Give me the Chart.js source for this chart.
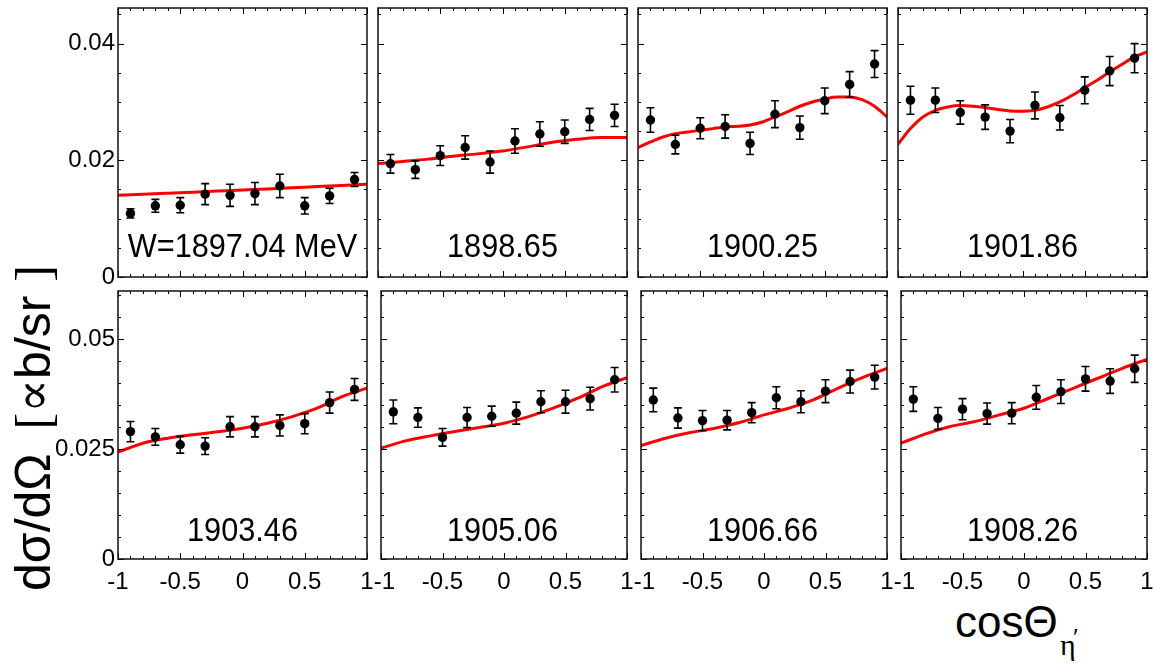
<!DOCTYPE html>
<html><head><meta charset="utf-8">
<script src="https://cdn.jsdelivr.net/npm/chart.js@4.4.1/dist/chart.umd.min.js"></script>
<style>
html,body{margin:0;padding:0;background:#fff;width:1153px;height:664px;overflow:hidden;position:relative;font-family:"Liberation Sans",Arial,sans-serif;color:#000;}
canvas{position:absolute;}
.plabel{position:absolute;width:249px;text-align:center;font-size:33px;line-height:33px;transform:scaleX(0.93);transform-origin:center;white-space:nowrap;}
#ytitle{position:absolute;left:33px;top:428px;transform:translate(-50%,-50%) rotate(-90deg);white-space:nowrap;font-size:50px;line-height:50px;}
#ytitle .sf{font-family:"Liberation Serif","DejaVu Serif",serif;}
.xt{position:absolute;white-space:nowrap;}
</style></head><body>
<div id="ytitle">dσ/dΩ <span class="sf" style="margin-left:10px">[</span><span class="sf">∝</span>b/sr <span class="sf">]</span></div>
<div class="xt" style="left:955px;top:600px;font-size:44px;line-height:44px;">cosΘ</div>
<div class="xt" style="left:1060px;top:630px;font-size:30px;line-height:30px;font-family:'Liberation Serif',serif;">η</div>
<div class="xt" style="left:1073px;top:625px;font-size:26px;line-height:26px;font-family:'Liberation Serif',serif;">′</div>
<script>
// ---- data ----
const cosTheta = [-0.9, -0.7, -0.5, -0.3, -0.1, 0.1, 0.3, 0.5, 0.7, 0.9];
const panelLabels = ["W=1897.04 MeV", "1898.65", "1900.25", "1901.86", "1903.46", "1905.06", "1906.66", "1908.26"];
const xTickValues = [-1, -0.5, 0, 0.5, 1];
const xTickLabels = ["-1", "-0.5", "0", "0.5", "1"];
const yTickValuesTop = [0, 0.02, 0.04];
const yTickLabelsTop = ["0", "0.02", "0.04"];
const yTickValuesBottom = [0, 0.025, 0.05];
const yTickLabelsBottom = ["0", "0.025", "0.05"];
const yMaxTop = 0.0461;
const yMaxBottom = 0.061;

const dsdo_1897 = [0.0109, 0.0122, 0.0123, 0.0142, 0.0140, 0.0143, 0.0156, 0.0122, 0.0139, 0.0167];
const err_1897  = [0.0008, 0.0011, 0.0013, 0.0018, 0.0019, 0.0019, 0.0020, 0.0014, 0.0013, 0.0012];
const dsdo_1898 = [0.0194, 0.0184, 0.0208, 0.0222, 0.0197, 0.0233, 0.0245, 0.0249, 0.0270, 0.0277];
const err_1898  = [0.0016, 0.0015, 0.0017, 0.0020, 0.0019, 0.0021, 0.0021, 0.0020, 0.0019, 0.0019];
const dsdo_1900 = [0.0269, 0.0227, 0.0255, 0.0258, 0.0229, 0.0279, 0.0256, 0.0302, 0.0330, 0.0365];
const err_1900  = [0.0021, 0.0016, 0.0018, 0.0020, 0.0019, 0.0023, 0.0020, 0.0022, 0.0022, 0.0023];
const dsdo_1901 = [0.0303, 0.0303, 0.0282, 0.0274, 0.0250, 0.0294, 0.0273, 0.0320, 0.0353, 0.0375];
const err_1901  = [0.0024, 0.0021, 0.0020, 0.0021, 0.0020, 0.0023, 0.0021, 0.0023, 0.0025, 0.0025];
const dsdo_1903 = [0.0290, 0.0278, 0.0260, 0.0257, 0.0301, 0.0301, 0.0304, 0.0308, 0.0356, 0.0386];
const err_1903  = [0.0023, 0.0019, 0.0019, 0.0019, 0.0023, 0.0023, 0.0024, 0.0023, 0.0024, 0.0025];
const dsdo_1905 = [0.0335, 0.0322, 0.0277, 0.0322, 0.0325, 0.0332, 0.0358, 0.0358, 0.0365, 0.0408];
const err_1905  = [0.0027, 0.0022, 0.0020, 0.0023, 0.0023, 0.0025, 0.0025, 0.0026, 0.0026, 0.0028];
const dsdo_1906 = [0.0362, 0.0321, 0.0315, 0.0316, 0.0333, 0.0367, 0.0358, 0.0382, 0.0404, 0.0414];
const err_1906  = [0.0027, 0.0023, 0.0023, 0.0022, 0.0023, 0.0025, 0.0025, 0.0026, 0.0026, 0.0027];
const dsdo_1908 = [0.0364, 0.0320, 0.0341, 0.0331, 0.0332, 0.0368, 0.0381, 0.0410, 0.0405, 0.0433];
const err_1908  = [0.0028, 0.0025, 0.0024, 0.0024, 0.0024, 0.0027, 0.0027, 0.0028, 0.0028, 0.0031];

const fitXCoarse = [-1, -0.8, -0.6, -0.4, -0.2, 0, 0.2, 0.4, 0.6, 0.8, 1];
const fitXFine = [-1, -0.9, -0.8, -0.7, -0.6, -0.5, -0.4, -0.3, -0.2, -0.1, 0, 0.1, 0.2, 0.3, 0.4, 0.5, 0.6, 0.7, 0.8, 0.9, 1];
const fit_1897 = [0.0140, 0.01418, 0.01436, 0.01454, 0.01472, 0.0149, 0.0151, 0.0153, 0.0155, 0.0157, 0.0159];
const fit_1898 = [0.01943, 0.0198, 0.0202, 0.0207, 0.0211, 0.0216, 0.0223, 0.0231, 0.0236, 0.0239, 0.0239];
const fit_1900 = [0.02217, 0.02314, 0.0240, 0.02457, 0.02486, 0.02514, 0.02543, 0.02571, 0.02583, 0.02606, 0.02657,
                  0.02743, 0.02829, 0.02926, 0.0300, 0.03051, 0.03086, 0.03086, 0.0304, 0.02926, 0.02743];
const fit_1901 = [0.02274, 0.02543, 0.02743, 0.02857, 0.02914, 0.02937, 0.02926, 0.02903, 0.02869, 0.02846, 0.0284,
                  0.02857, 0.02914, 0.0300, 0.03114, 0.03246, 0.03371, 0.03514, 0.03646, 0.03771, 0.03857];
const fit_1903 = [0.02432, 0.02636, 0.0275, 0.02826, 0.02894, 0.02977, 0.03091, 0.03242, 0.03432, 0.03697, 0.03886];
const fit_1905 = [0.02523, 0.02689, 0.02803, 0.02902, 0.02992, 0.03091, 0.03242, 0.03432, 0.03659, 0.03924, 0.04129];
const fit_1906 = [0.02583, 0.0275, 0.02879, 0.02977, 0.03106, 0.0328, 0.03432, 0.03621, 0.03886, 0.04129, 0.04341];
const fit_1908 = [0.02636, 0.02848, 0.03015, 0.03129, 0.0328, 0.03432, 0.03659, 0.03886, 0.04114, 0.04341, 0.04545];

// ---- table built from the arrays ----
const panels = [
  {label: panelLabels[0], y: dsdo_1897, e: err_1897, fx: fitXCoarse, fy: fit_1897},
  {label: panelLabels[1], y: dsdo_1898, e: err_1898, fx: fitXCoarse, fy: fit_1898},
  {label: panelLabels[2], y: dsdo_1900, e: err_1900, fx: fitXFine,   fy: fit_1900},
  {label: panelLabels[3], y: dsdo_1901, e: err_1901, fx: fitXFine,   fy: fit_1901},
  {label: panelLabels[4], y: dsdo_1903, e: err_1903, fx: fitXCoarse, fy: fit_1903},
  {label: panelLabels[5], y: dsdo_1905, e: err_1905, fx: fitXCoarse, fy: fit_1905},
  {label: panelLabels[6], y: dsdo_1906, e: err_1906, fx: fitXCoarse, fy: fit_1906},
  {label: panelLabels[7], y: dsdo_1908, e: err_1908, fx: fitXCoarse, fy: fit_1908}
];

// ---- layout (styling) ----
const panelLefts = [118, 378, 638, 898];
const panelW = 249;
const rowTops = [8, 291];
const rowHs = [269, 268];
const labelTops = [229, 513];
const PAD = 20;

const framePlugin = {
  id: 'frame',
  afterDatasetDraw(chart, args, opts) {
    if (args.index !== 1) return;
    const ctx = chart.ctx, xs = chart.scales.x, ys = chart.scales.y;
    const p = opts.panel;
    ctx.save();
    ctx.strokeStyle = '#000';
    ctx.lineWidth = 1.6;
    for (let k = 0; k < cosTheta.length; k++) {
      const x = xs.getPixelForValue(cosTheta[k]);
      const y1 = ys.getPixelForValue(p.y[k] - p.e[k]);
      const y2 = ys.getPixelForValue(p.y[k] + p.e[k]);
      ctx.beginPath();
      ctx.moveTo(x, y1); ctx.lineTo(x, y2);
      ctx.moveTo(x - 4, y1); ctx.lineTo(x + 4, y1);
      ctx.moveTo(x - 4, y2); ctx.lineTo(x + 4, y2);
      ctx.stroke();
    }
    ctx.restore();
  },
  afterDraw(chart, args, opts) {
    const ctx = chart.ctx, a = chart.chartArea, xs = chart.scales.x, ys = chart.scales.y;
    ctx.save();
    ctx.strokeStyle = '#000';
    ctx.lineWidth = 1;
    ctx.beginPath();
    for (let k = 0; k <= 20; k++) {
      const px = Math.round(xs.getPixelForValue(-1 + k * 0.1)) + 0.5;
      const len = (k % 5 === 0) ? 6 : 3;
      ctx.moveTo(px, a.bottom); ctx.lineTo(px, a.bottom - len);
      ctx.moveTo(px, a.top); ctx.lineTo(px, a.top + len);
    }
    const majorEvery = opts.row === 0 ? 4 : 5;
    for (let k = 0; k * 0.005 <= ys.max + 1e-9; k++) {
      const py = Math.round(ys.getPixelForValue(k * 0.005)) + 0.5;
      const len = (k % majorEvery === 0) ? 6 : 3;
      ctx.moveTo(a.left, py); ctx.lineTo(a.left + len, py);
      ctx.moveTo(a.right, py); ctx.lineTo(a.right - len, py);
    }
    ctx.stroke();
    ctx.lineWidth = 1.5;
    ctx.strokeStyle = '#111';
    ctx.strokeRect(a.left, a.top, a.right - a.left, a.bottom - a.top);
    ctx.restore();
  }
};

panels.forEach((p, i) => {
  const col = i % 4, row = Math.floor(i / 4);
  const yW = col === 0 ? 66 : 0;
  const xH = row === 1 ? 40 : 0;
  const cv = document.createElement('canvas');
  const w = PAD + yW + panelW + PAD;
  const h = PAD + rowHs[row] + xH + PAD;
  cv.width = w; cv.height = h;
  cv.style.width = w + 'px'; cv.style.height = h + 'px';
  cv.style.left = (panelLefts[col] - yW - PAD) + 'px';
  cv.style.top = (rowTops[row] - PAD) + 'px';
  document.body.appendChild(cv);

  const yVals = row === 0 ? yTickValuesTop : yTickValuesBottom;
  const yLabs = row === 0 ? yTickLabelsTop : yTickLabelsBottom;
  const tickFont = {family: 'Liberation Sans', size: 24};

  new Chart(cv, {
    type: 'scatter',
    data: {datasets: [
      {type: 'scatter', data: cosTheta.map((x, k) => ({x: x, y: p.y[k]})),
       pointRadius: 4.7, pointHoverRadius: 4.7, pointBackgroundColor: '#000', pointBorderWidth: 0, pointStyle: 'circle'},
      {type: 'line', data: p.fx.map((x, k) => ({x: x, y: p.fy[k]})),
       borderColor: '#ff0000', borderWidth: 3, pointRadius: 0, fill: false, cubicInterpolationMode: 'monotone'}
    ]},
    options: {
      responsive: false, animation: false, devicePixelRatio: 1, events: [],
      layout: {padding: {left: PAD, right: PAD, top: PAD, bottom: PAD}},
      plugins: {legend: {display: false}, tooltip: {enabled: false}, frame: {panel: p, row: row}},
      scales: {
        x: {type: 'linear', position: 'bottom', min: -1, max: 1,
            grid: {display: false, drawTicks: false}, border: {display: false},
            ticks: {display: row === 1, autoSkip: false, maxRotation: 0, padding: 9, color: '#000', font: tickFont,
                    callback: (v, idx) => (idx === 0 && col > 0) ? ' ' + xTickLabels[idx] : xTickLabels[idx]},
            afterBuildTicks: s => { s.ticks = xTickValues.map(v => ({value: v})); },
            afterFit: s => { s.height = xH; }},
        y: {type: 'linear', position: 'left', min: 0, max: row === 0 ? yMaxTop : yMaxBottom,
            grid: {display: false, drawTicks: false}, border: {display: false},
            ticks: {display: col === 0, autoSkip: false, padding: 3, color: '#000', font: tickFont,
                    callback: (v, idx) => yLabs[idx]},
            afterBuildTicks: s => { s.ticks = yVals.map(v => ({value: v})); },
            afterFit: s => { s.width = yW; }}
      }
    },
    plugins: [framePlugin]
  });

  const lab = document.createElement('div');
  lab.className = 'plabel';
  lab.textContent = p.label;
  lab.style.left = panelLefts[col] + 'px';
  lab.style.top = labelTops[row] + 'px';
  document.body.appendChild(lab);
});
</script>
</body></html>
